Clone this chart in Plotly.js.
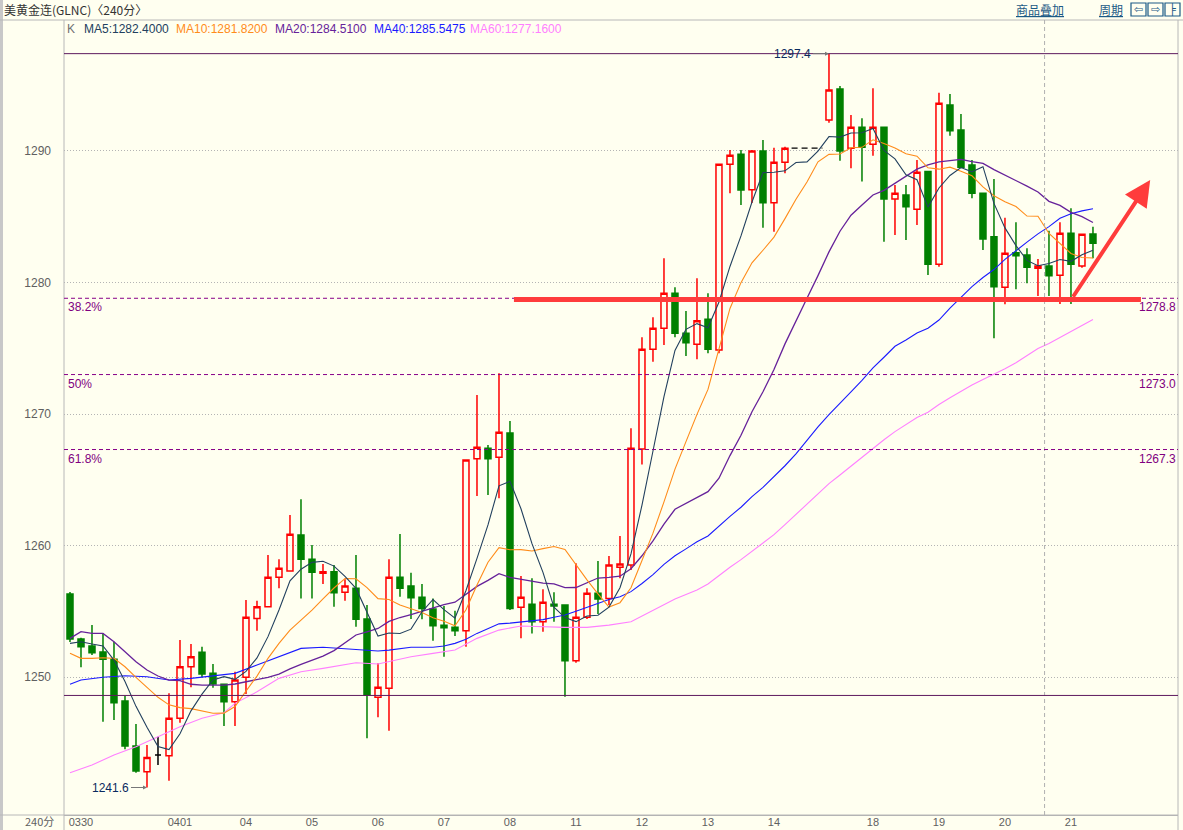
<!DOCTYPE html>
<html><head><meta charset="utf-8">
<script src="https://cdn.plot.ly/plotly-3.0.1.min.js"></script>
<style>html,body{margin:0;padding:0;background:#fffff0;overflow:hidden}#chart{width:1183px;height:830px}</style>
</head><body><div id="chart"></div>
<script>
// ---- data ----
const opens = [1256.31,1252.89,1252.36,1251.90,1251.35,1248.17,1244.75,1242.80,1244.07,1244.01,
1246.86,1250.78,1251.88,1250.28,1249.45,1248.12,1249.98,1254.46,1255.35,1257.58,
1258.06,1260.80,1258.95,1257.89,1258.01,1256.44,1256.75,1254.41,1248.46,1249.14,
1257.58,1256.92,1256.06,1255.17,1253.93,1253.78,1253.52,1266.60,1267.39,1266.71,
1268.56,1255.30,1255.53,1254.21,1255.53,1255.48,1251.24,1254.54,1256.37,1255.98,
1258.34,1258.52,1267.34,1274.92,1276.52,1279.18,1276.14,1275.30,1277.20,1274.87,
1288.99,1289.75,1287.06,1290.00,1286.07,1289.14,1290.21,1290.21,1290.21,1292.36,
1294.71,1290.21,1291.80,1290.51,1291.80,1286.35,1286.65,1285.57,1288.43,1281.38,
1293.50,1291.60,1288.94,1286.78,1283.48,1279.63,1282.27,1282.09,1281.08,1281.25,
1280.55,1283.74,1281.25,1283.69];
const highs = [1256.46,1252.99,1253.95,1253.32,1252.68,1248.56,1246.43,1244.83,1245.46,1248.76,
1252.81,1252.51,1252.30,1250.99,1249.45,1250.40,1255.86,1255.80,1259.28,1258.95,
1262.32,1263.51,1260.04,1258.59,1258.52,1257.43,1259.28,1255.48,1251.04,1258.95,
1260.87,1257.93,1257.07,1255.98,1255.40,1255.04,1266.50,1271.44,1267.64,1273.10,
1269.47,1257.68,1257.51,1256.67,1256.44,1255.53,1258.65,1256.75,1258.82,1259.20,
1260.72,1268.91,1275.83,1277.35,1281.84,1279.63,1277.83,1280.32,1279.18,1289.01,
1290.08,1290.08,1290.08,1290.84,1290.25,1290.33,1290.21,1290.21,1290.21,1297.40,
1294.94,1292.74,1292.49,1294.77,1291.80,1287.41,1287.41,1289.32,1288.43,1294.43,
1294.33,1292.81,1289.32,1286.78,1287.87,1284.93,1284.58,1282.60,1281.79,1283.94,
1284.58,1285.64,1283.67,1284.24];
const lows = [1252.66,1250.74,1251.67,1246.60,1246.73,1244.50,1242.72,1241.60,1243.31,1242.11,
1246.52,1249.22,1249.98,1249.19,1246.27,1246.27,1248.71,1253.52,1255.30,1256.75,
1258.01,1255.98,1255.98,1257.07,1255.35,1255.80,1253.83,1245.34,1246.94,1245.92,
1256.11,1254.41,1254.39,1252.76,1251.54,1253.12,1252.30,1263.76,1263.84,1263.59,
1255.09,1252.94,1253.32,1253.45,1254.21,1248.50,1251.09,1254.41,1254.79,1255.48,
1257.51,1258.14,1266.17,1273.98,1275.25,1275.83,1274.41,1274.16,1274.62,1274.62,
1286.78,1285.89,1286.05,1284.17,1283.86,1288.30,1290.21,1290.21,1290.21,1292.15,
1289.26,1288.68,1287.67,1289.64,1283.10,1283.61,1283.23,1284.37,1280.57,1281.20,
1291.16,1288.68,1286.40,1282.47,1275.76,1278.34,1279.48,1279.94,1278.97,1278.97,
1278.37,1278.37,1281.13,1281.84];
const closes = [1252.89,1252.30,1251.85,1251.35,1248.05,1244.75,1242.85,1243.89,1244.07,1246.86,
1250.78,1251.54,1250.23,1249.47,1248.12,1249.77,1254.54,1255.35,1257.58,1258.27,
1260.85,1258.95,1257.96,1258.01,1256.41,1256.92,1254.39,1248.63,1249.22,1257.58,
1256.75,1256.03,1255.22,1253.90,1253.75,1253.52,1266.50,1267.47,1266.60,1268.61,
1255.22,1256.06,1254.21,1255.68,1255.40,1251.24,1254.54,1256.37,1255.93,1258.52,
1258.59,1267.39,1274.92,1276.52,1279.18,1276.14,1275.42,1277.10,1274.92,1288.99,
1289.67,1287.03,1290.00,1286.07,1289.14,1290.21,1290.21,1290.21,1290.21,1294.64,
1290.00,1291.80,1290.28,1291.80,1286.35,1286.78,1285.76,1288.38,1281.38,1293.63,
1291.54,1288.76,1286.78,1283.31,1279.68,1282.22,1282.04,1281.16,1281.25,1280.52,
1283.74,1281.38,1283.67,1282.98];
// bars with no trading (holiday), drawn as a dashed flat line
const noTrade = [66,67,68];

// day labels (first bar of each trading day)
const dayIdx = [1,10,16,22,28,34,40,46,52,58,64,73,79,85,91];
const dayLabels = ['0330','0401','04','05','06','07','08','11','12','13','14','18','19','20','21'];

// moving averages: the early part (before enough bars exist)
const ma5EarlyIdx = [0,1,2,3];
const ma5EarlyVal = [1252.56,1252.68,1252.51,1252.36];
const ma10EarlyIdx = [0,1,2,3,4,5,6,7,8];
const ma10EarlyVal = [1251.80,1251.42,1251.42,1251.47,1251.42,1250.78,1249.98,1249.22,1248.46];
const ma20EarlyIdx = [0,1,2,3,4,5,6,7,8,9,10,11,12,13,14,15,16,17,18];
const ma20EarlyVal = [1252.94,1253.45,1253.32,1253.32,1252.68,1251.92,1251.16,1250.53,1250.08,1249.77,
1249.72,1249.45,1249.39,1249.39,1249.39,1249.47,1249.64,1249.77,1249.98];
const ma40EarlyIdx = [0,1,3,5,7,9,11,13,15,17,19,21,23,27,28,29,30,31,33,34,35,36,37,38];
const ma40EarlyVal = [1249.45,1249.77,1249.98,1250.10,1250.02,1249.77,1249.90,1250.08,1250.28,1250.91,
1251.54,1252.18,1252.26,1252.05,1251.98,1252.05,1252.18,1252.26,1252.26,1252.36,1252.56,1252.87,1253.32,1253.70];
const ma60EarlyIdx = [0,2,4,6,8,10,12,14,15,17,19,21,23,26,28,29,31,33,35,37,39,41,43,45,47,49,51,52,53,54,55,56,57,58];
const ma60EarlyVal = [1242.72,1243.31,1244.07,1244.70,1245.46,1246.22,1246.86,1247.29,1248.00,1248.88,
1249.90,1250.40,1250.66,1251.09,1250.99,1251.16,1251.54,1251.80,1252.05,1252.94,1253.57,1253.88,1253.82,
1253.78,1253.78,1253.95,1254.21,1254.64,1255.09,1255.55,1255.93,1256.27,1256.62,1257.07];

const legendItems = ['MA5:1282.4000','MA10:1281.8200','MA20:1284.5100','MA40:1285.5475','MA60:1277.1600'];
const fibLevels = [1278.8, 1273.0, 1267.3];
const fibPct = ['38.2%','50%','61.8%'];
const fibText = ['1278.8','1273.0','1267.3'];
const rangeHigh = 1297.4, rangeLow = 1248.6;

// ---- styles ----
const BG = '#fffff0';
const C_MA = ['#22405e','#ff8c1a','#66229a','#1a1aff','#ff80ff'];
const C_UP = '#ff0000', C_DN = '#008000';
const W = 1183, H = 830, L = 64, R = 1178, T = 38, B = 815;
const px2x = p => (p - L) / (R - L);
const py2y = p => (B - p) / (B - T);

function movingAvg(n, eIdx, eVal) {
  const xs = eIdx.slice(), ys = eVal.slice();
  for (let k = n - 1; k < closes.length; k++) {
    let s = 0; for (let j = k - n + 1; j <= k; j++) s += closes[j];
    xs.push(k); ys.push(s / n);
  }
  return {xs, ys};
}
const mas = [
  movingAvg(5, ma5EarlyIdx, ma5EarlyVal),
  movingAvg(10, ma10EarlyIdx, ma10EarlyVal),
  movingAvg(20, ma20EarlyIdx, ma20EarlyVal),
  movingAvg(40, ma40EarlyIdx, ma40EarlyVal),
  movingAvg(60, ma60EarlyIdx, ma60EarlyVal)
];

// candle groups
const norm = {x:[],o:[],h:[],l:[],c:[]}, doji = {x:[],o:[],h:[],l:[],c:[]};
closes.forEach((c,k) => {
  if (noTrade.includes(k)) return;
  const g = (opens[k] === c) ? doji : norm;
  g.x.push(k); g.o.push(opens[k]); g.h.push(highs[k]); g.l.push(lows[k]); g.c.push(c);
});

const traces = [];
for (let i = 4; i >= 0; i--) {
  traces.push({type:'scatter', mode:'lines', x:mas[i].xs, y:mas[i].ys,
    line:{color:C_MA[i], width: i===2 ? 1.3 : 1.1}, hoverinfo:'skip', showlegend:false});
}
traces.push({type:'candlestick', x:norm.x, open:norm.o, high:norm.h, low:norm.l, close:norm.c,
  increasing:{line:{color:C_UP, width:1.5}, fillcolor:'rgba(0,0,0,0)'},
  decreasing:{line:{color:C_DN, width:1.5}, fillcolor:C_DN},
  whiskerwidth:0, showlegend:false, hoverinfo:'skip'});
traces.push({type:'candlestick', x:doji.x, open:doji.o, high:doji.h, low:doji.l, close:doji.c,
  increasing:{line:{color:'#000', width:1.5}, fillcolor:'#000'},
  decreasing:{line:{color:'#000', width:1.5}, fillcolor:'#000'},
  whiskerwidth:0, showlegend:false, hoverinfo:'skip'});
// holiday gap: dashed line at previous close
const gapY = closes[noTrade[0]-1];
traces.push({type:'scatter', mode:'lines', x:[noTrade[0]-0.4, noTrade[noTrade.length-1]+0.4], y:[gapY, gapY],
  line:{color:'#000', width:1.2, dash:'6px,4px'}, hoverinfo:'skip', showlegend:false});

const shapes = [], annotations = [];
const FONT = 'Liberation Sans, Arial, sans-serif';
const CJK = 'Noto Sans CJK SC, sans-serif';

// window frame / header lines
shapes.push({type:'rect', xref:'paper', yref:'paper', x0:px2x(0), x1:px2x(3), y0:py2y(830), y1:py2y(0), fillcolor:'#c8c8c8', line:{width:0}, layer:'below'});
shapes.push({type:'line', xref:'paper', yref:'paper', x0:px2x(0), x1:px2x(1183), y0:py2y(20), y1:py2y(20), line:{color:'#b8b8b8', width:1}});
shapes.push({type:'line', xref:'paper', yref:'paper', x0:0, x1:0, y0:py2y(830), y1:py2y(20), line:{color:'#b8b8b8', width:1}});
shapes.push({type:'line', xref:'paper', yref:'paper', x0:1, x1:1, y0:py2y(830), y1:py2y(20), line:{color:'#b8b8b8', width:1}});
shapes.push({type:'line', xref:'paper', yref:'paper', x0:px2x(0), x1:1, y0:0, y1:0, line:{color:'#b8b8b8', width:1}});
// cursor dashed vertical
shapes.push({type:'line', xref:'x', yref:'paper', x0:88.6, x1:88.6, y0:0, y1:py2y(20), line:{color:'#b0b0b0', width:1, dash:'4px,3px'}});
// range high/low lines
[rangeHigh, rangeLow].forEach(v => shapes.push({type:'line', xref:'paper', yref:'y', x0:0, x1:1, y0:v, y1:v, line:{color:'#5e1a5e', width:1}}));
// fibonacci lines and labels
fibLevels.forEach((v,i) => {
  shapes.push({type:'line', xref:'paper', yref:'y', x0:0, x1:1, y0:v, y1:v, line:{color:'#880088', width:1, dash:'4px,3px'}});
  annotations.push({xref:'paper', yref:'y', x:0, y:v, xanchor:'left', yanchor:'top', xshift:2, yshift:0, text:fibPct[i], showarrow:false, font:{family:FONT, size:12, color:'#800080'}});
  annotations.push({xref:'paper', yref:'y', x:1, y:v, xanchor:'right', yanchor:'top', xshift:0, yshift:0, text:fibText[i], showarrow:false, font:{family:FONT, size:12, color:'#800080'}});
});
// hand-drawn red support line and arrow
shapes.push({type:'line', xref:'x', yref:'y', x0:40.36, x1:97.36, y0:1278.7, y1:1278.7, line:{color:'#ff3c3c', width:5}});
annotations.push({xref:'x', yref:'y', axref:'x', ayref:'y', x:98.2, y:1287.8, ax:91.1, ay:1278.8, text:'', showarrow:true,
  arrowhead:2, arrowsize:1.3, arrowwidth:4, arrowcolor:'#ff3c3c', standoff:0, startstandoff:0});

// high / low markers
const hiK = highs.indexOf(Math.max(...highs)), loK = lows.indexOf(Math.min(...lows));
annotations.push({xref:'x', yref:'y', x:hiK, y:highs[hiK], ax:-36, ay:0, text:highs[hiK].toFixed(1), showarrow:true,
  arrowhead:2, arrowsize:0.8, arrowwidth:1, arrowcolor:'#777', standoff:0, font:{family:FONT, size:12, color:'#0a2a5e'}});
annotations.push({xref:'x', yref:'y', x:loK, y:lows[loK], ax:-36, ay:0, text:lows[loK].toFixed(1), showarrow:true,
  arrowhead:2, arrowsize:0.8, arrowwidth:1, arrowcolor:'#777', standoff:0, font:{family:FONT, size:12, color:'#0a2a5e'}});

// header texts
annotations.push({xref:'paper', yref:'paper', x:px2x(2), y:py2y(10), xanchor:'left', yanchor:'middle', showarrow:false,
  text:'美黄金连(GLNC)〈240分〉', font:{family:CJK, size:12, color:'#333'}});
annotations.push({xref:'paper', yref:'paper', x:px2x(1040), y:py2y(10), xanchor:'center', yanchor:'middle', showarrow:false,
  text:'<span style="text-decoration:underline">商品叠加</span>', font:{family:CJK, size:12, color:'#1c5a86'}});
annotations.push({xref:'paper', yref:'paper', x:px2x(1111), y:py2y(10), xanchor:'center', yanchor:'middle', showarrow:false,
  text:'<span style="text-decoration:underline">周期</span>', font:{family:CJK, size:12, color:'#1c5a86'}});
['⇦','⇨','╞'].forEach((t,i) => {
  shapes.push({type:'rect', xref:'paper', yref:'paper', x0:px2x(1131+i*17), x1:px2x(1146+i*17), y0:py2y(16), y1:py2y(3), line:{color:'#1c5a86', width:1.2}, fillcolor:'rgba(0,0,0,0)'});
  annotations.push({xref:'paper', yref:'paper', x:px2x(1138.5+i*17), y:py2y(9.5), xanchor:'center', yanchor:'middle', showarrow:false,
    text:t, font:{family:'DejaVu Sans', size:11, color:'#1c5a86'}});
});
// legend row
annotations.push({xref:'paper', yref:'paper', x:px2x(65), y:py2y(29), xanchor:'left', yanchor:'middle', showarrow:false,
  text:'K', font:{family:FONT, size:12, color:'#707070'}});
const legX = [82, 174, 273, 372, 468];
legendItems.forEach((t,i) => annotations.push({xref:'paper', yref:'paper', x:px2x(legX[i]), y:py2y(29), xanchor:'left', yanchor:'middle', showarrow:false,
  text:t, font:{family:FONT, size:12, color:C_MA[i]}}));
// period label bottom-left
annotations.push({xref:'paper', yref:'paper', x:px2x(56), y:py2y(821), xanchor:'right', yanchor:'middle', showarrow:false,
  text:'240分', font:{family:CJK, size:11, color:'#606060'}});

const layout = {
  width:W, height:H, margin:{l:L, r:W-R, t:T, b:H-B, pad:0},
  paper_bgcolor:BG, plot_bgcolor:BG, showlegend:false, hovermode:false, dragmode:false,
  boxgap:0.22,
  xaxis:{type:'linear', range:[-0.545, 100.73], rangeslider:{visible:false}, showgrid:false, zeroline:false,
    showline:true, linecolor:'#b0b0b0', linewidth:1, ticks:'', tickvals:dayIdx, ticktext:dayLabels,
    tickfont:{family:FONT, size:11, color:'#606060'}, ticklabelstandoff:-3, fixedrange:true},
  yaxis:{range:[1239.51, 1298.59], tickvals:[1250,1260,1270,1280,1290], showgrid:true, gridcolor:'#b4b4b4', griddash:'1px,2px', gridwidth:1,
    zeroline:false, showline:false, ticks:'', tickfont:{family:FONT, size:12, color:'#606060'}, ticklabelstandoff:12, fixedrange:true},
  shapes, annotations
};
Plotly.newPlot('chart', traces, layout, {displayModeBar:false, staticPlot:true});
</script></body></html>
